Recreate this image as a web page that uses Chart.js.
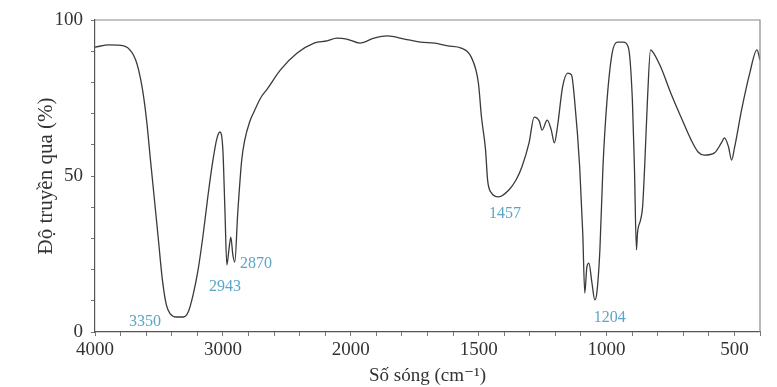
<!DOCTYPE html>
<html>
<head>
<meta charset="utf-8">
<script src="https://cdn.jsdelivr.net/npm/chart.js@4.4.1/dist/chart.umd.min.js"></script>
<style>
  html, body { margin: 0; padding: 0; background: #fff; }
  #wrap { width: 777px; height: 387px; }
</style>
</head>
<body>
<div id="wrap"><canvas id="ir-spectrum"></canvas></div>
<script>
// Wavenumbers (cm-1) and transmittance (%)
const wavenumbers = [
  4000, 3891, 3775, 3713, 3682, 3659, 3628, 3597, 3566, 3535, 3504, 3473, 3442, 3411, 3364, 3310,
  3271, 3233, 3194, 3155, 3116, 3078, 3047, 3023, 3000, 2984, 2969, 2953, 2938, 2922, 2907, 2884,
  2853, 2829, 2791, 2752, 2705, 2651, 2550, 2419, 2287, 2186, 2109, 2031, 1964, 1909, 1857, 1790,
  1727, 1671, 1620, 1568, 1529, 1501, 1489, 1473, 1465, 1450, 1422, 1382, 1354, 1331, 1303, 1283,
  1263, 1252, 1232, 1216, 1204, 1192, 1172, 1152, 1137, 1125, 1105, 1093, 1085, 1077, 1069, 1057,
  1046, 1038, 1026, 1014, 998, 978, 958, 935, 915, 899, 891, 883, 879, 867, 859, 851,
  840, 828, 816, 788, 749, 709, 669, 642, 618, 578, 551, 539, 523, 511, 499, 472,
  440, 412, 400,
];
const transmittance = [
  91.3, 92.0, 91.7, 89.7, 87.2, 84.0, 77.6, 68.0, 55.0, 42.3, 29.5, 16.7, 8.7, 5.8, 4.8, 4.8,
  6.4, 11.9, 19.9, 31.0, 43.9, 55.0, 62.0, 64.1, 58.3, 39.0, 21.5, 26.3, 30.4, 24.7, 22.4, 38.0,
  55.0, 61.5, 67.3, 71.0, 75.0, 78.0, 84.0, 89.4, 92.6, 93.3, 94.2, 93.9, 92.6, 94.2, 94.9, 93.9,
  92.9, 92.6, 91.7, 91.0, 88.1, 79.8, 68.9, 58.3, 48.7, 44.6, 43.3, 45.5, 48.7, 52.9, 60.6, 68.9,
  67.6, 64.7, 67.9, 64.7, 60.6, 65.7, 78.5, 83.0, 82.4, 74.4, 52.9, 31.7, 12.5, 20.8, 22.1, 15.7,
  10.3, 12.5, 26.3, 52.9, 74.4, 89.4, 92.9, 92.9, 91.3, 74.4, 52.9, 26.3, 31.7, 35.9, 40.1, 52.9,
  74.4, 90.4, 89.4, 84.9, 76.6, 68.9, 61.5, 57.7, 56.7, 57.4, 60.6, 62.2, 59.3, 55.1, 59.3, 71.2,
  83.0, 90.4, 87.2,
];

// Peak labels and where they sit (wavenumber, transmittance)
const peakLabels = ['3350', '2943', '2870', '1457', '1204'];
const peakLabelWn = [3610, 2984, 2742, 1397, 987];
const peakLabelT = [3.2, 14.4, 21.8, 38, 4.5];

const xTickLabels = [4000, 3000, 2000, 1500, 1000, 500];
const yTickLabels = [0, 50, 100];

// IR axes are compressed by 2x above 2000 cm-1
const toAxis = wn => (wn >= 2000 ? (4000 - wn) / 2 : 1000 + (2000 - wn));
const fromAxis = u => (u <= 1000 ? 4000 - 2 * u : 2000 - (u - 1000));

const serif = '"Liberation Serif", "DejaVu Serif", serif';

const peakLabelPlugin = {
  id: 'peakLabels',
  afterDatasetsDraw(chart) {
    const { ctx, scales: { x, y } } = chart;
    ctx.save();
    ctx.font = '16px ' + serif;
    ctx.fillStyle = '#5aa6c9';
    ctx.textAlign = 'center';
    ctx.textBaseline = 'middle';
    peakLabels.forEach((t, i) => {
      ctx.fillText(t, x.getPixelForValue(toAxis(peakLabelWn[i])), y.getPixelForValue(peakLabelT[i]));
    });
    ctx.restore();
  },
};

const framePlugin = {
  id: 'frame',
  afterDraw(chart) {
    const { ctx, chartArea: a } = chart;
    ctx.save();
    ctx.strokeStyle = '#8a8a8a';
    ctx.lineWidth = 1.2;
    ctx.beginPath();
    ctx.moveTo(a.left, a.top);
    ctx.lineTo(a.right, a.top);
    ctx.lineTo(a.right, a.bottom);
    ctx.stroke();
    ctx.restore();
  },
};

new Chart(document.getElementById('ir-spectrum'), {
  type: 'line',
  data: {
    datasets: [{
      data: wavenumbers.map((wn, i) => ({ x: toAxis(wn), y: transmittance[i] })),
      borderColor: '#3a3a3a',
      borderWidth: 1.3,
      pointRadius: 0,
      cubicInterpolationMode: 'monotone',
      fill: false,
    }],
  },
  options: {
    responsive: true,
    maintainAspectRatio: false,
    animation: false,
    events: [],
    layout: { padding: { top: 20, right: 17, left: 0, bottom: 0 } },
    plugins: { legend: { display: false }, tooltip: { enabled: false } },
    scales: {
      x: {
        type: 'linear',
        min: 0,
        max: toAxis(400),
        afterBuildTicks: scale => {
          const ticks = [];
          for (let u = 0; u <= 2600; u += 100) ticks.push({ value: u });
          scale.ticks = ticks;
        },
        afterFit: scale => { scale.height = 55; },
        ticks: {
          autoSkip: false,
          maxRotation: 0,
          padding: 3,
          color: '#333',
          font: { family: serif, size: 19 },
          callback: v => {
            const wn = Math.round(fromAxis(v));
            return xTickLabels.includes(wn) ? String(wn) : '';
          },
        },
        grid: { drawOnChartArea: false, tickLength: 4, color: '#777' },
        border: { color: '#555', width: 1.2 },
        title: {
          display: true,
          text: 'Số sóng (cm⁻¹)',
          color: '#333',
          font: { family: serif, size: 19 },
          padding: { top: 0, bottom: 0 },
        },
      },
      y: {
        min: 0,
        max: 100,
        afterFit: scale => { scale.width = 95; },
        ticks: {
          stepSize: 10,
          autoSkip: false,
          padding: 8,
          color: '#333',
          font: { family: serif, size: 19 },
          callback: v => (yTickLabels.includes(v) ? String(v) : ''),
        },
        grid: { drawOnChartArea: false, tickLength: 4, color: '#777' },
        border: { color: '#555', width: 1.2 },
        title: {
          display: true,
          text: 'Độ truyền qua (%)',
          color: '#333',
          font: { family: serif, size: 21 },
          padding: { top: 34, bottom: 8 },
        },
      },
    },
  },
  plugins: [peakLabelPlugin, framePlugin],
});
</script>
</body>
</html>
